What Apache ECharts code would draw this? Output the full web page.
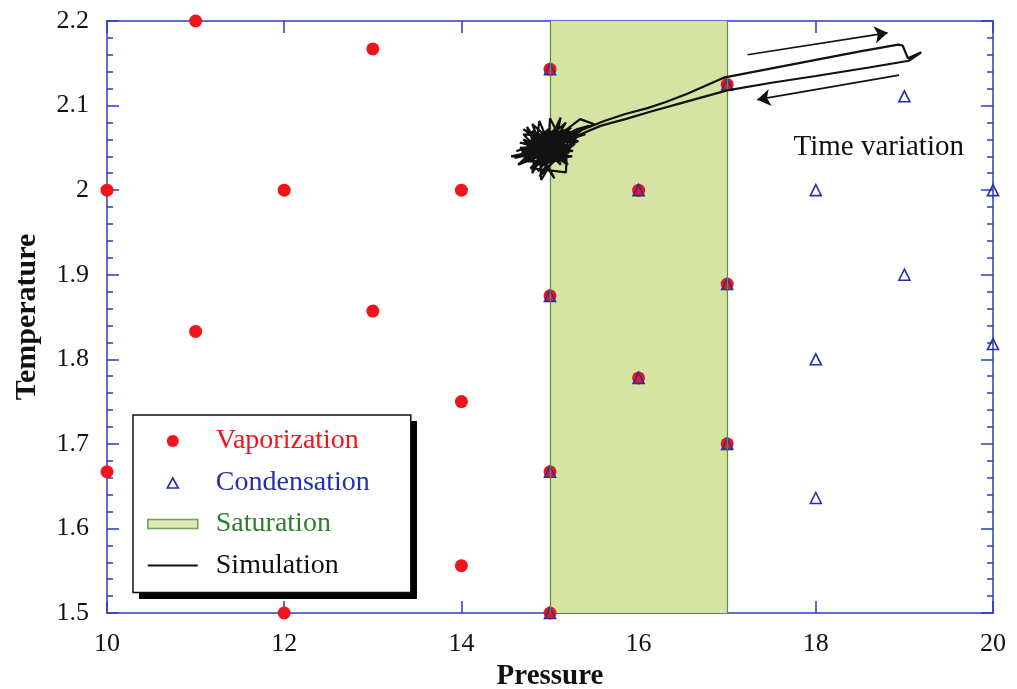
<!DOCTYPE html>
<html>
<head>
<meta charset="utf-8">
<title>Temperature vs Pressure</title>
<script src="https://cdn.jsdelivr.net/npm/echarts@6/dist/echarts.min.js"></script>
<style>
  html, body { margin: 0; padding: 0; background: #ffffff; }
  #chart { width: 1017px; height: 689px; }
</style>
</head>
<body>
<div id="chart"></div>
<script>
// Measured state points (Pressure, Temperature)
const vapPressure = [10, 10, 11, 11, 12, 12, 13, 13, 14, 14, 14, 15, 15, 15, 15, 16, 16, 17, 17, 17];
const vapTemperature = [2.0, 1.667, 2.2, 1.833, 2.0, 1.5, 2.167, 1.857, 2.0, 1.75, 1.556, 2.143, 1.875, 1.667, 1.5, 2.0, 1.778, 2.125, 1.889, 1.7];

const condPressure = [15, 15, 15, 15, 16, 16, 17, 17, 17, 18, 18, 18, 19, 19, 20, 20];
const condTemperature = [2.143, 1.875, 1.667, 1.5, 2.0, 1.778, 2.125, 1.889, 1.7, 2.0, 1.8, 1.636, 2.111, 1.9, 2.0, 1.818];

// Saturation band (pressure range)
const saturationRange = [15, 17];

// Simulated trajectory: fluctuation near the saturation edge, one excursion and return
const simulation = [
  [14.95, 2.048], [15.12, 2.062], [14.82, 2.040], [15.05, 2.071], [14.74, 2.052], [15.18, 2.044],
  [14.88, 2.030], [15.02, 2.058], [14.68, 2.044], [15.22, 2.066], [14.90, 2.060], [15.08, 2.034],
  [14.78, 2.064], [15.28, 2.055], [14.96, 2.026], [14.85, 2.068], [15.14, 2.050], [14.60, 2.038],
  [14.98, 2.054], [15.12, 2.086], [15.10, 2.076], [14.80, 2.046], [15.25, 2.040], [14.92, 2.036],
  [14.70, 2.060], [15.04, 2.044], [14.86, 2.022], [15.16, 2.058], [14.76, 2.034], [15.00, 2.066],
  [15.35, 2.070], [14.94, 2.042], [14.66, 2.050], [15.06, 2.052], [14.84, 2.056], [15.20, 2.030],
  [14.98, 2.072], [14.72, 2.042], [15.12, 2.040], [14.90, 2.052], [15.30, 2.062], [14.88, 2.016],
  [15.02, 2.040], [14.80, 2.070], [15.18, 2.052], [14.64, 2.030], [14.96, 2.062], [15.08, 2.046],
  [14.90, 2.045], [15.06, 2.038], [14.80, 2.058], [15.15, 2.048], [14.86, 2.036], [15.02, 2.062],
  [14.76, 2.048], [15.10, 2.054], [14.94, 2.032], [15.20, 2.060], [14.84, 2.052], [15.00, 2.044],
  [14.72, 2.056], [15.16, 2.042], [14.92, 2.066], [15.08, 2.050], [14.78, 2.040], [15.12, 2.070],
  [14.96, 2.038], [15.24, 2.052], [14.88, 2.058], [15.04, 2.034], [14.70, 2.034], [14.98, 2.048],
  [15.00, 2.085], [15.14, 2.056], [14.82, 2.026], [15.06, 2.074], [14.90, 2.040], [15.26, 2.064],
  [14.82, 2.032], [15.24, 2.074], [14.92, 2.050], [15.40, 2.066], [15.06, 2.060], [14.86, 2.046],
  [15.14, 2.068], [15.34, 2.084], [15.50, 2.078], [15.28, 2.068], [15.62, 2.082],
  [15.85, 2.090], [16.10, 2.097], [16.30, 2.104], [16.55, 2.114], [16.96, 2.133], [17.40, 2.142],
  [18.00, 2.154], [18.50, 2.164], [18.93, 2.172], [18.98, 2.171], [19.04, 2.156], [19.19, 2.163],
  [19.05, 2.153], [18.60, 2.145], [18.00, 2.135], [17.50, 2.127], [17.00, 2.118], [16.55, 2.105],
  [16.14, 2.093], [15.85, 2.084], [15.57, 2.076], [15.30, 2.064],
  [15.10, 2.058], [14.86, 2.044], [15.16, 2.036], [14.74, 2.058], [15.04, 2.064], [14.90, 2.028],
  [15.22, 2.050], [14.68, 2.046], [14.98, 2.070], [15.12, 2.030], [14.82, 2.062], [15.32, 2.058],
  [14.94, 2.040], [14.56, 2.040], [15.02, 2.050], [14.78, 2.026], [15.18, 2.021], [15.20, 2.072],
  [14.86, 2.062], [15.00, 2.054], [14.66, 2.056], [15.10, 2.044], [14.94, 2.070], [15.18, 2.034],
  [14.80, 2.054], [15.05, 2.014], [14.76, 2.070], [15.22, 2.044], [14.92, 2.058], [14.62, 2.046],
  [15.08, 2.064], [14.88, 2.048], [15.30, 2.072], [15.44, 2.076], [15.20, 2.064], [14.90, 2.012],
  [14.88, 2.064], [15.08, 2.042], [14.72, 2.038], [14.96, 2.058], [15.26, 2.046], [14.84, 2.050],
  [14.74, 2.075], [15.00, 2.032], [14.70, 2.066], [15.14, 2.062], [14.92, 2.044], [14.80, 2.020],
  [14.88, 2.082], [15.02, 2.046], [14.70, 2.072], [15.10, 2.050], [14.80, 2.078], [14.96, 2.034],
  [15.06, 2.068], [14.90, 2.054], [15.18, 2.080], [14.98, 2.046]
];

// Direction arrows and their caption
const arrowOut = [[17.23, 2.160], [18.81, 2.186]];
const arrowBack = [[18.94, 2.136], [17.34, 2.107]];
const captionPos = [18.71, 2.051];
const captionText = 'Time variation';

// Axis ranges
const xRange = [10, 20, 2];
const yRange = [1.5, 2.2, 0.1];

const serif = "'Liberation Serif', 'Times New Roman', serif";
const axisBlue = '#2a3cc4';
const red = '#f0141c';
const blue = '#2231a8';
const green = '#2f7d2f';

function zip(a, b) { return a.map((v, i) => [v, b[i]]); }

const axisCommon = {
  type: 'value',
  splitLine: { show: false },
  axisLine: { show: true, lineStyle: { color: axisBlue, width: 1.5 } },
  axisTick: { show: true, inside: true, length: 12, lineStyle: { color: axisBlue, width: 1.5 } }
};

const chart = echarts.init(document.getElementById('chart'));
chart.setOption({
  animation: false,
  backgroundColor: '#ffffff',
  grid: { left: 107, right: 24, top: 21, bottom: 76, containLabel: false, outerBoundsMode: 'none' },
  xAxis: [
    Object.assign({}, axisCommon, {
      min: xRange[0], max: xRange[1], interval: xRange[2], position: 'bottom',
      axisLabel: { color: '#111', fontFamily: serif, fontSize: 26, margin: 18 },
      name: 'Pressure', nameLocation: 'middle', nameGap: 46,
      nameTextStyle: { color: '#111', fontFamily: serif, fontSize: 29, fontWeight: 'bold' }
    }),
    Object.assign({}, axisCommon, {
      min: xRange[0], max: xRange[1], interval: xRange[2], position: 'top',
      axisLabel: { show: false }
    })
  ],
  yAxis: [
    Object.assign({}, axisCommon, {
      min: yRange[0], max: yRange[1], interval: yRange[2], position: 'left',
      minorTick: { show: true, splitNumber: 5, length: 6, lineStyle: { color: axisBlue, width: 1.5 } },
      axisLabel: { color: '#111', fontFamily: serif, fontSize: 26, margin: 18 },
      name: 'Temperature', nameLocation: 'middle', nameGap: 65,
      nameTextStyle: { color: '#111', fontFamily: serif, fontSize: 30, fontWeight: 'bold' }
    }),
    Object.assign({}, axisCommon, {
      min: yRange[0], max: yRange[1], interval: yRange[2], position: 'right',
      minorTick: { show: true, splitNumber: 5, length: 6, lineStyle: { color: axisBlue, width: 1.5 } },
      axisLabel: { show: false }
    })
  ],
  legend: {
    orient: 'vertical',
    left: 133, top: 415,
    padding: [12, 41, 13, 14],
    itemGap: 13.5,
    itemWidth: 50, itemHeight: 14,
    backgroundColor: '#ffffff',
    borderColor: '#111', borderWidth: 1.5, borderRadius: 0,
    selectedMode: false,
    textStyle: { fontFamily: serif, fontSize: 28, padding: [0, 0, 0, 13] },
    data: [
      { name: 'Vaporization', icon: 'path://M0,0M50,14M25,1A6,6,0,1,1,25,13A6,6,0,1,1,25,1Z',
        itemStyle: { color: red, borderWidth: 0 }, textStyle: { color: red } },
      { name: 'Condensation', icon: 'path://M0,0M50,14M19.5,12.5L25,2.5L30.5,12.5Z',
        itemStyle: { color: 'rgba(0,0,0,0)', borderColor: blue, borderWidth: 1.6 }, textStyle: { color: blue } },
      { name: 'Saturation', icon: 'path://M0,0H50V9H0Z',
        itemStyle: { color: '#d5e3a3', borderColor: '#4d8a3c', borderWidth: 1.5 },
        textStyle: { color: green } },
      { name: 'Simulation', icon: 'path://M0,0H50V1.8H0Z',
        itemStyle: { color: '#111', borderWidth: 0 }, textStyle: { color: '#111' } }
    ]
  },
  // drop shadow behind the legend box
  graphic: [{
    type: 'rect', left: 139, top: 421, z: 3, silent: true,
    shape: { width: 278, height: 178 },
    style: { fill: '#000' }
  }],
  series: [
    {
      name: 'Saturation',
      type: 'scatter',
      data: [],
      z: 1,
      itemStyle: { color: '#d5e3a3', borderColor: '#4d8a3c', borderWidth: 1.5 },
      markArea: {
        silent: true,
        itemStyle: { color: '#d5e3a3' },
        data: [[{ xAxis: saturationRange[0] }, { xAxis: saturationRange[1] }]]
      },
      markLine: {
        silent: true,
        symbol: 'none',
        label: { show: false },
        lineStyle: { color: '#5b9040', type: 'solid', width: 1.2 },
        data: saturationRange.map(v => ({ xAxis: v }))
      }
    },
    {
      name: 'Vaporization',
      type: 'scatter',
      clip: false,
      z: 3,
      symbol: 'circle',
      symbolSize: 13,
      itemStyle: { color: red, opacity: 1 },
      data: zip(vapPressure, vapTemperature)
    },
    {
      name: 'Condensation',
      type: 'scatter',
      clip: false,
      z: 4,
      symbol: 'triangle',
      symbolSize: 11,
      itemStyle: { color: 'rgba(0,0,0,0)', borderColor: blue, borderWidth: 1.6, opacity: 1 },
      data: zip(condPressure, condTemperature)
    },
    {
      name: 'Simulation',
      type: 'line',
      z: 5,
      symbol: 'none',
      showSymbol: false,
      lineStyle: { color: '#111', width: 2.2 },
      itemStyle: { color: '#111' },
      data: simulation
    },
    {
      name: 'annotation',
      type: 'line',
      data: [],
      z: 6,
      markLine: {
        silent: true,
        symbol: ['none', 'arrow'],
        symbolSize: 13,
        label: { show: false },
        lineStyle: { color: '#111', type: 'solid', width: 1.6 },
        data: [
          [{ coord: arrowOut[0] }, { coord: arrowOut[1] }],
          [{ coord: arrowBack[0] }, { coord: arrowBack[1] }]
        ]
      },
      markPoint: {
        silent: true,
        symbol: 'circle',
        symbolSize: 1,
        itemStyle: { color: 'rgba(0,0,0,0)' },
        label: {
          show: true, position: 'inside', formatter: captionText,
          color: '#111', fontFamily: serif, fontSize: 29
        },
        data: [{ coord: captionPos }]
      }
    }
  ]
});
</script>
</body>
</html>
